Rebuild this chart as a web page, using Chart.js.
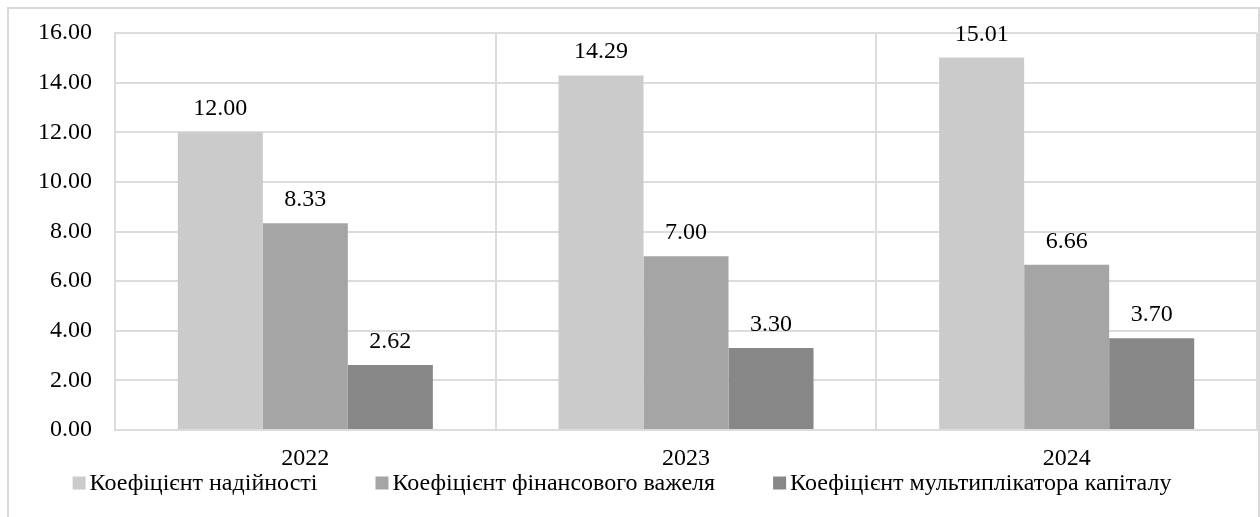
<!DOCTYPE html>
<html lang="uk">
<head>
  <meta charset="UTF-8">
  <title>Коефіцієнти</title>
  <script src="https://cdn.jsdelivr.net/npm/chart.js@4.4.1/dist/chart.umd.min.js"></script>
  <style>
    body { margin: 0; padding: 0; background: #fff; font-family: 'Liberation Serif', serif; }
    .frame { position: absolute; left: 7px; top: 7px; width: 1249px; height: 520px; border: 2px solid #d9d9d9; border-bottom: none; }
    .preload { position: absolute; left: 0; top: 0; font-size: 24px; color: #fff; opacity: 0.01; }
    canvas { position: absolute; left: 0; top: 0; }
  </style>
</head>
<body>
  <div class="preload">Коефіцієнт 0123456789.</div>
  <div class="frame"></div>
  <canvas id="chart" width="1260" height="517"></canvas>

  <script>
    const years = ['2022', '2023', '2024'];
    const seriesNames = ['Коефіцієнт надійності', 'Коефіцієнт фінансового важеля', 'Коефіцієнт мультиплікатора капіталу'];
    const reliability = [12.00, 14.29, 15.01];
    const leverage = [8.33, 7.00, 6.66];
    const multiplier = [2.62, 3.30, 3.70];
    const barColors = ['#cbcbcb', '#a5a5a5', '#878787'];

    const FONT = "'Liberation Serif', serif";
    const SIZE = 24;

    // value labels above bars
    const valueLabels = {
      id: 'valueLabels',
      afterDatasetsDraw(chart) {
        const ctx = chart.ctx;
        ctx.save();
        ctx.font = SIZE + 'px ' + FONT;
        ctx.fillStyle = '#000';
        ctx.textAlign = 'center';
        ctx.textBaseline = 'alphabetic';
        chart.data.datasets.forEach((ds, i) => {
          chart.getDatasetMeta(i).data.forEach((bar, j) => {
            ctx.fillText(ds.data[j].toFixed(2), bar.x, bar.y - 17);
          });
        });
        ctx.restore();
      }
    };

    // legend drawn by hand so marker/text spacing matches
    const bottomLegend = {
      id: 'bottomLegend',
      afterDraw(chart) {
        const ctx = chart.ctx;
        const box = 13, gap = 4, between = 58, cy = 483, cx = 622;
        ctx.save();
        ctx.font = SIZE + 'px ' + FONT;
        ctx.textBaseline = 'middle';
        ctx.textAlign = 'left';
        const widths = chart.data.datasets.map(ds => ctx.measureText(ds.label).width);
        let total = widths.reduce((a, w) => a + box + gap + w, 0) + between * (widths.length - 1);
        let x = cx - total / 2;
        chart.data.datasets.forEach((ds, i) => {
          ctx.fillStyle = ds.backgroundColor;
          ctx.fillRect(x, cy - box / 2, box, box);
          ctx.fillStyle = '#000';
          ctx.fillText(ds.label, x + box + gap, cy + 1);
          x += box + gap + widths[i] + between;
        });
        ctx.restore();
      }
    };

    function draw() {
      new Chart(document.getElementById('chart'), {
        type: 'bar',
        data: {
          labels: years,
          datasets: [
            { label: seriesNames[0], data: reliability, backgroundColor: barColors[0] },
            { label: seriesNames[1], data: leverage, backgroundColor: barColors[1] },
            { label: seriesNames[2], data: multiplier, backgroundColor: barColors[2] }
          ]
        },
        options: {
          responsive: false,
          animation: false,
          layout: { padding: { top: 33, right: 3, left: 0, bottom: 49 } },
          datasets: { bar: { categoryPercentage: 0.67, barPercentage: 1.0 } },
          scales: {
            x: {
              grid: { color: '#dcdcdc', lineWidth: 2, drawTicks: false, offset: true },
              border: { color: '#dcdcdc', width: 2 },
              ticks: { color: '#000', font: { family: FONT, size: SIZE }, padding: 14 },
              afterFit(scale) { scale.height = 38; }
            },
            y: {
              min: 0, max: 16,
              // invisible tick marks push labels left without adding top padding
              grid: { color: '#dcdcdc', lineWidth: 2, drawTicks: true, tickLength: 19, tickColor: 'rgba(0,0,0,0)' },
              border: { color: '#dcdcdc', width: 2 },
              ticks: {
                stepSize: 2, color: '#000', font: { family: FONT, size: SIZE }, padding: 4,
                callback: v => v.toFixed(2)
              },
              afterFit(scale) { scale.width = 115; }
            }
          },
          plugins: {
            legend: { display: false },
            tooltip: { enabled: false }
          }
        },
        plugins: [valueLabels, bottomLegend]
      });
    }

    document.fonts.load(SIZE + 'px "Liberation Serif"').then(draw, draw);
  </script>
</body>
</html>
